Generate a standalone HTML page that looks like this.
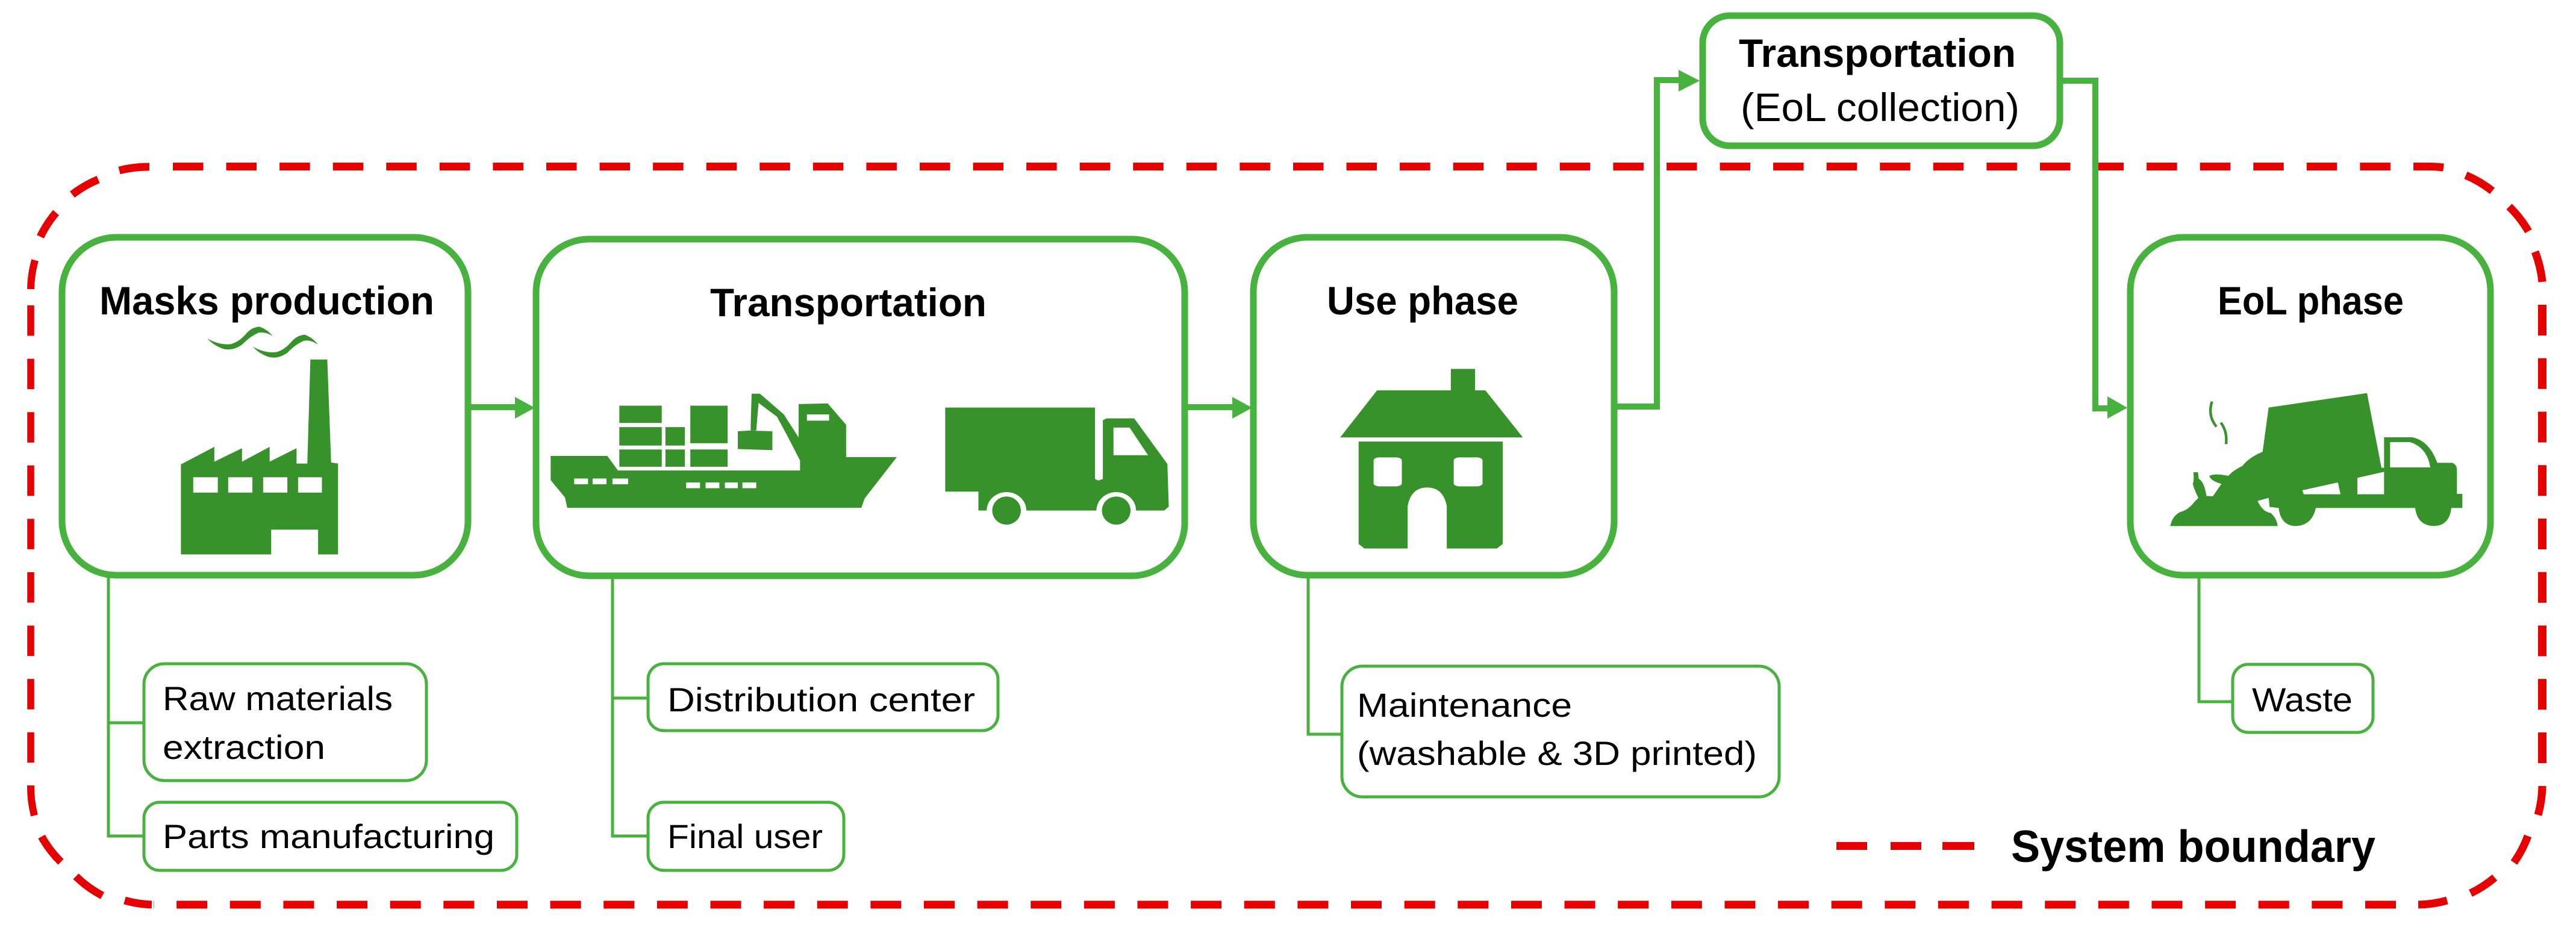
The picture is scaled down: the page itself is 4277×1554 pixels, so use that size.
<!DOCTYPE html>
<html>
<head>
<meta charset="utf-8">
<style>
html,body{margin:0;padding:0;background:#fff;}
svg{display:block;}
text{font-family:"Liberation Sans",sans-serif;fill:#000;}
.b{font-weight:bold;font-size:66px;}
.s{font-size:56px;}
.box{fill:#fff;stroke:#47b23d;stroke-width:11;}
.sub{fill:#fff;stroke:#47b23d;stroke-width:5;}
.ln{fill:none;stroke:#47b23d;stroke-width:10;}
.th{fill:none;stroke:#47b23d;stroke-width:5;}
.hd{fill:#47b23d;}
.ic{fill:#38922b;}
.w{fill:#fff;}
.r{fill:none;stroke:#e60000;stroke-width:13;}
</style>
</head>
<body>
<svg xmlns="http://www.w3.org/2000/svg" width="4277" height="1554" viewBox="0 0 4277 1554">
<rect width="4277" height="1554" fill="#fff"/>

<!-- system boundary: straight runs -->
<path class="r" d="M287 276.5 H4006" stroke-dasharray="50.5 38.07"/>
<path class="r" style="stroke-width:14" d="M4221 506 V1268" stroke-dasharray="51 37.75"/>
<path class="r" d="M3978 1502 H255" stroke-dasharray="51 37.63"/>
<path style="fill:none;stroke:#e60000;stroke-width:11.5" d="M51 507 V1270" stroke-dasharray="50.5 38.1"/>

<!-- system boundary: corner dashes -->
<path class="r" d="M248 277 A190 190 0 0 0 198 283"/>
<path class="r" d="M163 298 A190 190 0 0 0 120 323"/>
<path class="r" d="M93 353 A190 190 0 0 0 67 393"/>
<path class="r" style="stroke-width:12" d="M58 432 A190 190 0 0 0 51 480"/>

<path class="r" d="M4007 276.5 H4031 A190 190 0 0 1 4057 278"/>
<path class="r" d="M4094 291 A190 190 0 0 1 4138 317"/>
<path class="r" d="M4166 343 A190 190 0 0 1 4198 384"/>
<path class="r" d="M4209 418 A190 190 0 0 1 4221 468"/>

<path class="r" d="M4221 1305 A190 190 0 0 1 4214 1353"/>
<path class="r" d="M4197 1388 A190 190 0 0 1 4174 1432"/>
<path class="r" d="M4142 1457 A190 190 0 0 1 4102 1483"/>
<path class="r" d="M4063 1495 A190 190 0 0 1 4015 1502"/>

<path class="r" d="M252 1502 A190 190 0 0 1 207 1495"/>
<path class="r" d="M170 1487 A190 190 0 0 1 126 1455"/>
<path class="r" d="M101 1431 A190 190 0 0 1 69 1389"/>
<path class="r" style="stroke-width:12" d="M57 1354 A190 190 0 0 1 51 1304"/>

<!-- sub connectors -->
<path class="th" d="M180 955 V1388 H239 M180 1200 H239"/>
<path class="th" d="M1017 956 V1388 H1076 M1017 1159 H1076"/>
<path class="th" d="M2172 955 V1219 H2228"/>
<path class="th" d="M3651 955 V1165 H3707"/>

<!-- connectors -->
<path class="ln" d="M777 676 H860"/>
<polygon class="hd" points="855,659 888,677 855,695"/>
<path class="ln" d="M1967 676 H2050"/>
<polygon class="hd" points="2046,659 2079,677 2046,695"/>
<path class="ln" d="M2680 675 H2751 V133 H2795"/>
<polygon class="hd" points="2787,116 2822,134 2787,152"/>
<path class="ln" d="M3420 134 H3479 V678 H3505"/>
<polygon class="hd" points="3499,658 3532,677 3499,695"/>

<!-- main boxes -->
<rect class="box" x="103" y="394" width="674" height="561" rx="90" ry="90"/>
<rect class="box" x="890" y="397" width="1077" height="559" rx="88" ry="88"/>
<rect class="box" x="2081" y="394" width="599" height="561" rx="90" ry="90"/>
<rect class="box" x="2827" y="26" width="593" height="216" rx="45" ry="45"/>
<rect class="box" x="3537" y="394" width="598" height="561" rx="88" ry="88"/>

<!-- sub boxes -->
<rect class="sub" x="239" y="1102" width="469" height="194" rx="34" ry="34"/>
<rect class="sub" x="239" y="1332" width="619" height="113" rx="26" ry="26"/>
<rect class="sub" x="1076" y="1102" width="581" height="111" rx="26" ry="26"/>
<rect class="sub" x="1076" y="1332" width="325" height="113" rx="26" ry="26"/>
<rect class="sub" x="2228" y="1106" width="726" height="217" rx="34" ry="34"/>
<rect class="sub" x="3707" y="1103" width="233" height="113" rx="26" ry="26"/>

<!-- factory -->
<g transform="translate(0,300) scale(0.6378,0.4464)">
<polygon class="ic" points="471,1055 558,990 558,1045 630,995 630,1045 702,990 702,1045 772,995 772,1052 800,1052 808,665 852,665 862,1048 880,1052 880,1390 828,1390 828,1298 706,1298 706,1390 471,1390"/>
<rect class="w" x="503" y="1103" width="64" height="57"/>
<rect class="w" x="594" y="1103" width="63" height="57"/>
<rect class="w" x="685" y="1103" width="63" height="57"/>
<rect class="w" x="776" y="1103" width="62" height="57"/>
<path class="ic" d="M540 587 Q570 612 600 608 Q622 600 640 570 Q655 545 675 543 Q695 552 710 578 Q690 560 672 566 Q650 580 630 610 Q605 635 580 625 Q555 612 540 587Z"/>
<path class="ic" d="M658 617 Q688 642 718 638 Q740 630 758 600 Q773 575 793 573 Q813 582 828 610 Q808 590 790 596 Q768 610 748 640 Q723 665 698 655 Q673 642 658 617Z"/>
</g>

<!-- ship and truck -->
<g transform="translate(850,380) scale(0.7653,0.3827)">
<polygon class="ic" points="84,985 207,985 230,1048 625,1048 625,1005 598,900 575,815 535,755 530,875 518,875 518,845 520,715 538,715 590,805 622,905 622,760 685,757 725,850 725,990 835,990 765,1170 758,1210 120,1210 115,1165 84,1090"/>
<polygon class="ic" points="490,878 515,875 565,878 565,960 490,955"/>
<rect class="w" x="640" y="805" width="48" height="27"/>
<rect class="ic" x="233" y="767" width="92" height="75"/>
<rect class="ic" x="233" y="860" width="92" height="80"/>
<rect class="ic" x="233" y="957" width="92" height="75"/>
<rect class="ic" x="333" y="860" width="42" height="80"/>
<rect class="ic" x="333" y="957" width="42" height="75"/>
<rect class="ic" x="387" y="767" width="81" height="163"/>
<rect class="ic" x="387" y="957" width="81" height="75"/>
<rect class="w" x="135" y="1083" width="30" height="25"/>
<rect class="w" x="175" y="1083" width="30" height="25"/>
<rect class="w" x="218" y="1083" width="34" height="25"/>
<rect class="w" x="378" y="1100" width="30" height="25"/>
<rect class="w" x="420" y="1100" width="30" height="25"/>
<rect class="w" x="462" y="1100" width="28" height="25"/>
<rect class="w" x="500" y="1100" width="30" height="25"/>
<polygon class="ic" points="940,775 1265,775 1265,1085 1272,1092 1282,1085 1282,830 1290,822 1350,822 1422,1020 1425,1205 1415,1222 1012,1222 1012,1140 940,1140"/>
<polygon class="w" points="1305,862 1340,862 1380,982 1305,982"/>
<ellipse class="w" cx="1073" cy="1222" rx="43" ry="80"/>
<ellipse class="w" cx="1311" cy="1222" rx="43" ry="80"/>
<ellipse class="ic" cx="1073" cy="1222" rx="31" ry="61"/>
<ellipse class="ic" cx="1311" cy="1222" rx="31" ry="61"/>
</g>

<!-- house -->
<g transform="translate(2050,0) scale(0.9569,0.625)">
<polygon class="ic" points="183,1162 247,1037 375,1037 375,980 417,980 417,1037 435,1037 500,1162"/>
<path class="ic" d="M215 1173 H465 V1445 L455 1457 H368 V1345 Q362 1295 334 1295 Q306 1295 300 1345 V1457 H225 L215 1445 Z"/>
<rect class="w" x="241" y="1215" width="49" height="77" rx="10" ry="8"/>
<rect class="w" x="380" y="1215" width="50" height="77" rx="10" ry="8"/>
</g>

<!-- garbage truck -->
<g transform="translate(3600,640) scale(0.33333)">
<path class="ic" d="M10 700 Q20 650 60 630 Q100 620 130 580 L150 560 Q130 520 122 490 Q130 470 125 432 L148 432 L152 465 Q180 480 190 550 L222 552 L265 490 Q210 475 205 450 Q225 440 270 445 L300 450 Q320 425 370 400 Q400 360 470 330 L500 110 L990 38 L1062 410 L1075 410 L1075 258 L1215 258 Q1300 275 1340 385 L1415 385 Q1438 395 1438 420 L1438 540 L1465 540 L1465 610 L1410 610 Q1400 700 1320 700 Q1240 695 1230 610 L735 610 Q715 700 630 700 Q560 695 550 610 L505 605 L500 560 L445 575 Q470 630 510 635 Q540 660 545 700 Z"/>
<path class="w" d="M1105 282 L1205 282 Q1290 310 1305 408 L1105 408 Z"/>
<polygon class="w" points="668,522 845,483 858,542 675,542"/>
<polygon class="w" points="942,460 1075,430 1075,542 942,542"/>
<path d="M218 80 Q195 150 240 205 M262 185 Q295 230 288 292" fill="none" stroke="#38922b" stroke-width="13"/>
</g>

<!-- labels -->
<text class="b" x="165" y="522" textLength="556" lengthAdjust="spacingAndGlyphs">Masks production</text>
<text class="b" x="1179" y="525" textLength="459" lengthAdjust="spacingAndGlyphs">Transportation</text>
<text class="b" x="2203" y="522" textLength="318" lengthAdjust="spacingAndGlyphs">Use phase</text>
<text class="b" x="2887" y="111" textLength="460" lengthAdjust="spacingAndGlyphs">Transportation</text>
<text x="2890" y="201" font-size="66" textLength="463" lengthAdjust="spacingAndGlyphs">(EoL collection)</text>
<text class="b" x="3682" y="522" textLength="309" lengthAdjust="spacingAndGlyphs">EoL phase</text>

<text class="s" x="270" y="1179" textLength="382" lengthAdjust="spacingAndGlyphs">Raw materials</text>
<text class="s" x="270" y="1260" textLength="270" lengthAdjust="spacingAndGlyphs">extraction</text>
<text class="s" x="270" y="1408" textLength="551" lengthAdjust="spacingAndGlyphs">Parts manufacturing</text>
<text class="s" x="1108" y="1181" textLength="511" lengthAdjust="spacingAndGlyphs">Distribution center</text>
<text class="s" x="1108" y="1408" textLength="258" lengthAdjust="spacingAndGlyphs">Final user</text>
<text class="s" x="2253" y="1190" textLength="357" lengthAdjust="spacingAndGlyphs">Maintenance</text>
<text class="s" x="2253" y="1270" textLength="664" lengthAdjust="spacingAndGlyphs">(washable &amp; 3D printed)</text>
<text class="s" x="3739" y="1181" textLength="167" lengthAdjust="spacingAndGlyphs">Waste</text>

<!-- legend -->
<rect x="3049" y="1398" width="51" height="13" fill="#e60000"/>
<rect x="3139" y="1398" width="51" height="13" fill="#e60000"/>
<rect x="3225" y="1398" width="53" height="13" fill="#e60000"/>
<text x="3339" y="1431" font-size="75" font-weight="bold" textLength="605" lengthAdjust="spacingAndGlyphs">System boundary</text>
</svg>
</body>
</html>
